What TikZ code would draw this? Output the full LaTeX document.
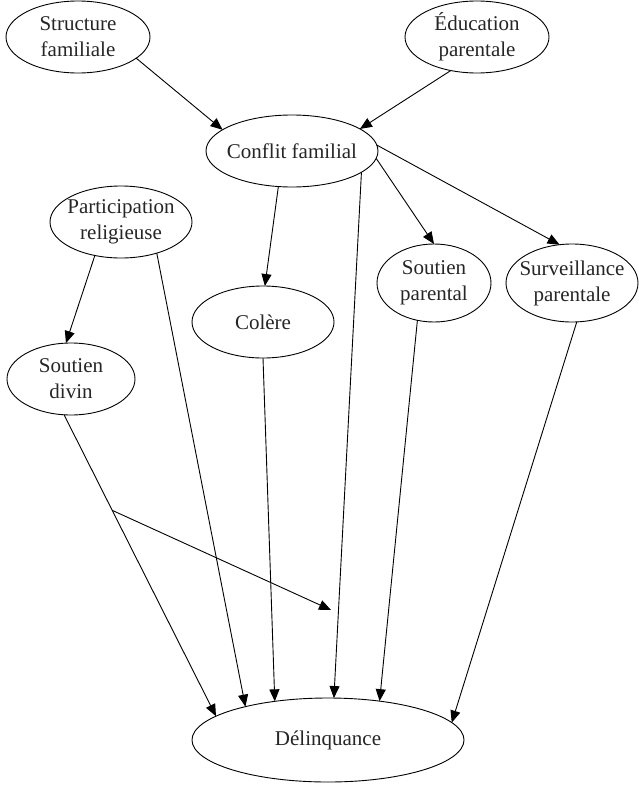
\documentclass[tikz,border=0pt]{standalone}
\usepackage{fontspec}
\setmainfont{Liberation Serif}
\usetikzlibrary{shapes.geometric,arrows.meta}
\tikzset{
  ell/.style={draw, ellipse, line width=0.9pt, inner sep=0pt, outer sep=0pt},
  every label/.style={font=\fontsize{21}{26}\selectfont, align=center, inner sep=0pt, text=black!85},
  arr/.style={line width=0.9pt, -{Triangle[length=12pt,width=10pt]}},
  ln/.style={line width=0.9pt}
}
\begin{document}
\begin{tikzpicture}[x=1pt,y=-1pt]
\useasboundingbox[fill=white] (0,0) rectangle (639,787);
\node[ell, minimum width=144pt, minimum height=72pt, label={center:Structure\\familiale}] (sf) at (78,37) {};
\node[ell, minimum width=144pt, minimum height=72pt, label={center:Éducation\\parentale}] (ep) at (477,37) {};
\node[ell, minimum width=172pt, minimum height=72pt, label={center:Conflit familial}] (cf) at (292,151) {};
\node[ell, minimum width=142pt, minimum height=72pt, label={center:Participation\\religieuse}] (pr) at (121,222) {};
\node[ell, minimum width=142pt, minimum height=72pt, label={center:Colère}] (co) at (263,322) {};
\node[ell, minimum width=128pt, minimum height=72pt, label={center:Soutien\\divin}] (sd) at (71,379) {};
\node[ell, minimum width=114pt, minimum height=78pt, label={center:Soutien\\parental}] (sp) at (434,283) {};
\node[ell, minimum width=132pt, minimum height=78pt, label={center:Surveillance\\parentale}] (sv) at (572,283) {};
\node[ell, minimum width=272pt, minimum height=84pt, label={center:Délinquance}] (de) at (328,740) {};

\draw[arr] (sf.-20) -- (cf.163);
\draw[arr] (ep.-128) -- (cf.18);
\draw[arr] (cf.-111) -- (co.87);
\draw[arr] (cf.-17) -- (de.82);
\draw[arr] (cf.-5) -- (sp.90);
\draw[arr] (cf.4) -- (sv.108);
\draw[arr] (pr.-128) -- (sd.98);
\draw[arr] (pr.-41) -- (de.158);
\draw[arr] (sd.-101) -- coordinate[pos=0.317] (m) (de.168);
\draw[arr] (co.-90) -- (de.144);
\draw[arr] (sp.-114) -- (de.37);
\draw[arr] (sv.-83) -- (de.8);
\coordinate (mt) at (331,610);
\draw[arr] (m) -- (mt);
\end{tikzpicture}
\end{document}
